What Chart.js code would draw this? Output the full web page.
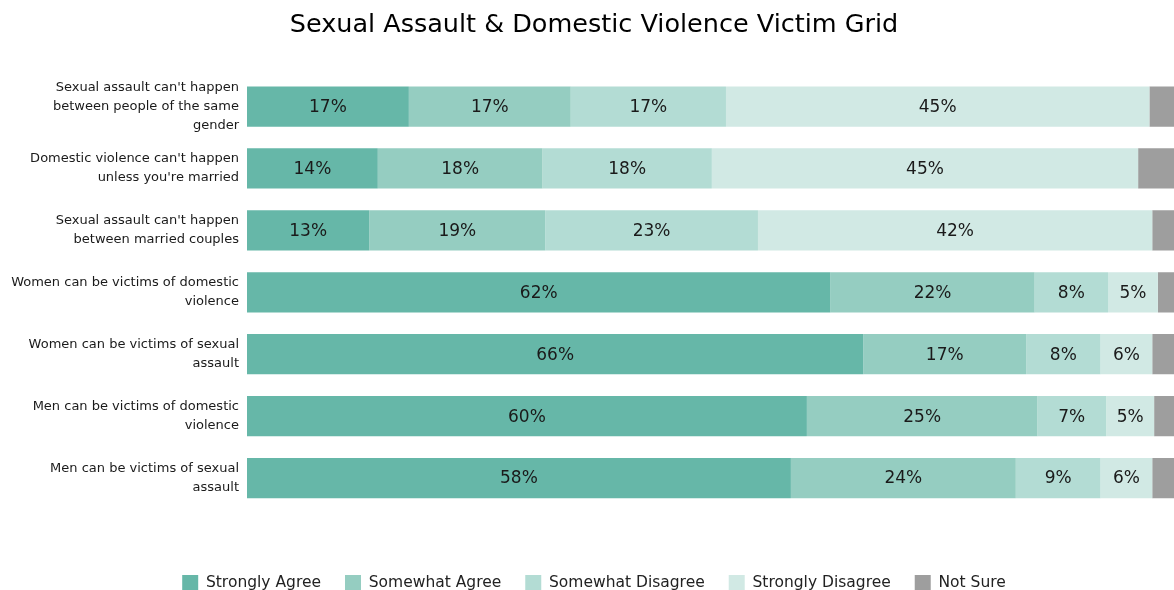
<!DOCTYPE html>
<html>
<head>
<meta charset="utf-8">
<script src="https://cdn.jsdelivr.net/npm/chart.js@4/dist/chart.umd.min.js"></script>
<style>
  html, body { margin: 0; padding: 0; background: #fff; overflow: hidden; }
  /* the original chart is a bit wider than the picture: its right edge is cut off */
  canvas { display: block; }
</style>
</head>
<body>
<canvas id="chart" width="1188" height="590"></canvas>
<script>
// Categories (multi-line labels, as in the picture)
const statements = [
  ["Sexual assault can't happen", "between people of the same", "gender"],
  ["Domestic violence can't happen", "unless you're married"],
  ["Sexual assault can't happen", "between married couples"],
  ["Women can be victims of domestic", "violence"],
  ["Women can be victims of sexual", "assault"],
  ["Men can be victims of domestic", "violence"],
  ["Men can be victims of sexual", "assault"]
];

const seriesNames = ['Strongly Agree', 'Somewhat Agree', 'Somewhat Disagree', 'Strongly Disagree', 'Not Sure'];

// Series values (%)
const strongAgree    = [17.2, 13.9, 13.0, 62.0, 65.5, 59.5, 57.8];
const someAgree      = [17.2, 17.5, 18.7, 21.7, 17.3, 24.5, 23.9];
const someDisagree   = [16.5, 18.0, 22.6, 7.8, 7.9, 7.3, 9.0];
const strongDisagree = [45.0, 45.3, 41.9, 5.3, 5.5, 5.1, 5.5];
const notSure        = [4.1, 5.3, 3.8, 3.2, 3.8, 3.6, 3.8];

const colors = ['#66b7a8', '#95cdc1', '#b3dcd4', '#d1e9e4', '#9e9e9e'];
const FONT = '"DejaVu Sans", Tahoma, sans-serif';

const allSeries = [strongAgree, someAgree, someDisagree, strongDisagree, notSure];

// draws the % text in the middle of each segment (not for Not Sure)
const segmentLabels = {
  id: 'segmentLabels',
  afterDatasetsDraw(chart) {
    const ctx = chart.ctx;
    ctx.save();
    ctx.font = '17px ' + FONT;
    ctx.fillStyle = '#1a1a1a';
    ctx.textAlign = 'center';
    ctx.textBaseline = 'middle';
    chart.data.datasets.forEach((ds, i) => {
      if (i === 4) return;
      chart.getDatasetMeta(i).data.forEach((bar, j) => {
        const p = bar.getProps(['x', 'y', 'base'], true);
        ctx.fillText(Math.round(ds.data[j]) + '%', (p.x + p.base) / 2, p.y + 1);
      });
    });
    ctx.restore();
  }
};

new Chart(document.getElementById('chart'), {
  type: 'bar',
  data: {
    labels: statements,
    datasets: allSeries.map((d, i) => ({
      label: seriesNames[i],
      data: d,
      backgroundColor: colors[i],
      borderWidth: 0,
      barPercentage: 0.65,
      categoryPercentage: 1
    }))
  },
  options: {
    indexAxis: 'y',
    responsive: false,
    animation: false,
    layout: { padding: { top: 0, left: 0, right: 0, bottom: -11 } },
    scales: {
      x: {
        stacked: true,
        min: 0,
        max: 100,
        grid: { display: false, drawTicks: false },
        border: { display: false },
        ticks: { display: false },
        afterFit(s) { s.height = 42; }
      },
      y: {
        stacked: true,
        grid: { display: false, drawTicks: false },
        border: { display: false },
        ticks: {
          color: '#1a1a1a',
          padding: 8,
          font: { family: FONT, size: 13, lineHeight: 1.45 }
        },
        afterFit(s) { s.width = 247; }
      }
    },
    plugins: {
      title: {
        display: true,
        text: 'Sexual Assault & Domestic Violence Victim Grid',
        color: '#000',
        font: { family: FONT, size: 25.5, weight: 'normal' },
        padding: { top: 10, bottom: 35 }
      },
      legend: {
        position: 'bottom',
        labels: {
          boxWidth: 16,
          boxHeight: 16,
          padding: 24,
          color: '#222',
          font: { family: FONT, size: 15.5 }
        }
      },
      tooltip: { enabled: false }
    }
  },
  plugins: [segmentLabels]
});
</script>
</body>
</html>
